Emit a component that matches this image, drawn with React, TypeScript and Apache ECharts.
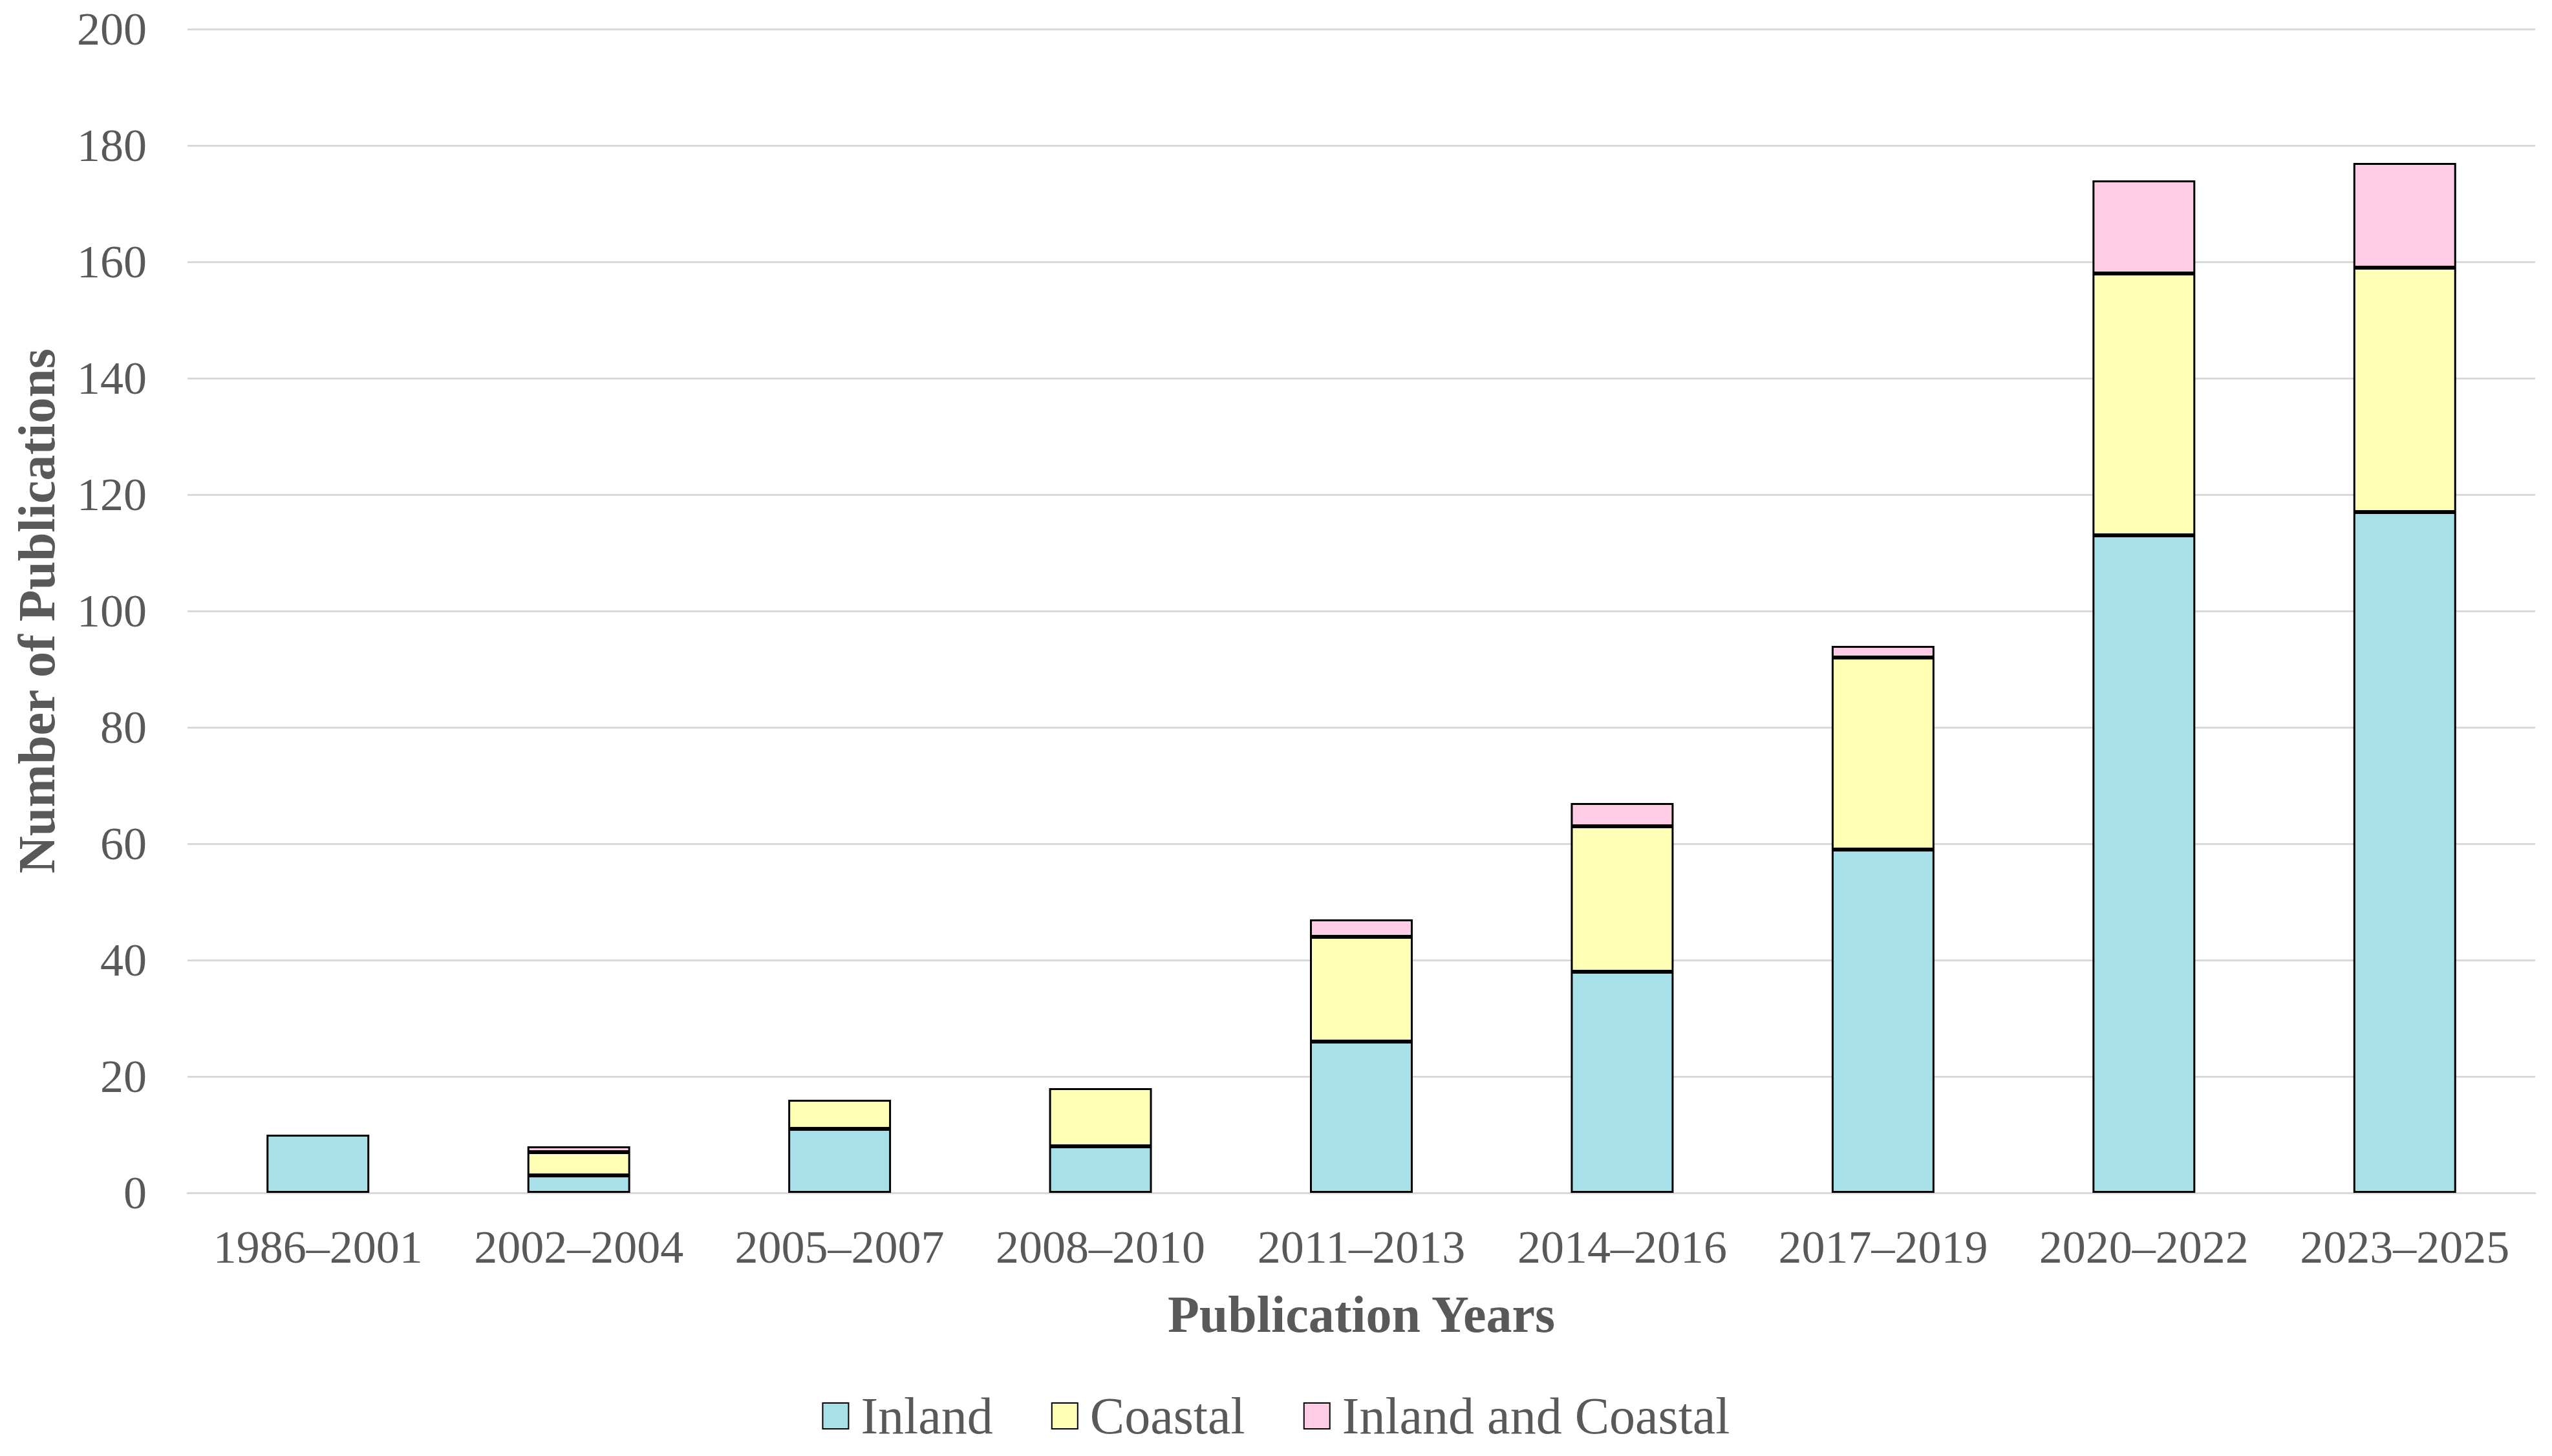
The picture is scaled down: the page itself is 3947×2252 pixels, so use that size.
import React, { useEffect, useRef } from "react";
import * as echarts from "echarts";

const categories = [
  "1986–2001",
  "2002–2004",
  "2005–2007",
  "2008–2010",
  "2011–2013",
  "2014–2016",
  "2017–2019",
  "2020–2022",
  "2023–2025",
];
const inland = [10, 3, 11, 8, 26, 38, 59, 113, 117];
const coastal = [0, 4, 5, 10, 18, 25, 33, 45, 42];
const inlandAndCoastal = [0, 1, 0, 0, 3, 4, 2, 16, 18];
const seriesNames = ["Inland", "Coastal", "Inland and Coastal"];
const seriesColors = ["#A8E0EA", "#FFFFB5", "#FFCCE5"];

const FONT = "'Liberation Serif', 'Times New Roman', serif";
const TEXT = "#595959";

export default function App() {
  const ref = useRef<HTMLDivElement>(null);
  useEffect(() => {
    document.body.style.margin = "0";
    const chart = echarts.init(ref.current!, null, { renderer: "svg" });
    const datasets = [inland, coastal, inlandAndCoastal];
    chart.setOption({
      animation: false,
      backgroundColor: "#ffffff",
      textStyle: { fontFamily: FONT },
      grid: { left: 290, right: 26, top: 45, bottom: 407, containLabel: false },
      legend: {
        top: 2145,
        left: "center",
        itemWidth: 40,
        itemHeight: 40,
        itemGap: 90,
        icon: "rect",
        textStyle: { fontSize: 80, color: TEXT, fontFamily: FONT, padding: [0, 0, 0, 14] },
        data: seriesNames,
      },
      xAxis: {
        type: "category",
        data: categories,
        axisTick: { show: false },
        axisLine: { show: true, lineStyle: { color: "#d9d9d9", width: 3 } },
        axisLabel: { fontSize: 72, color: TEXT, fontFamily: FONT, margin: 48, interval: 0 },
        name: "Publication Years",
        nameLocation: "middle",
        nameGap: 148,
        nameTextStyle: { fontSize: 80, fontWeight: "bold", color: TEXT, fontFamily: FONT },
      },
      yAxis: {
        type: "value",
        min: 0,
        max: 200,
        interval: 20,
        axisLine: { show: false },
        axisTick: { show: false },
        splitLine: { lineStyle: { color: "#d9d9d9", width: 3 } },
        axisLabel: { fontSize: 72, color: TEXT, fontFamily: FONT, margin: 63 },
        name: "Number of Publications",
        nameLocation: "middle",
        nameGap: 193,
        nameTextStyle: { fontSize: 80, fontWeight: "bold", color: TEXT, fontFamily: FONT },
      },
      series: datasets.map((d, i) => ({
        name: seriesNames[i],
        type: "bar",
        stack: "total",
        barWidth: "39.4%",
        data: d.map((v) => (v === 0 ? null : v)),
        itemStyle: { color: seriesColors[i], borderColor: "#000000", borderWidth: 3 },
      })),
    });
    return () => chart.dispose();
  }, []);
  return (
    <div
      ref={ref}
      style={{ position: "fixed", left: 0, top: 0, width: 3947, height: 2252 }}
    />
  );
}
